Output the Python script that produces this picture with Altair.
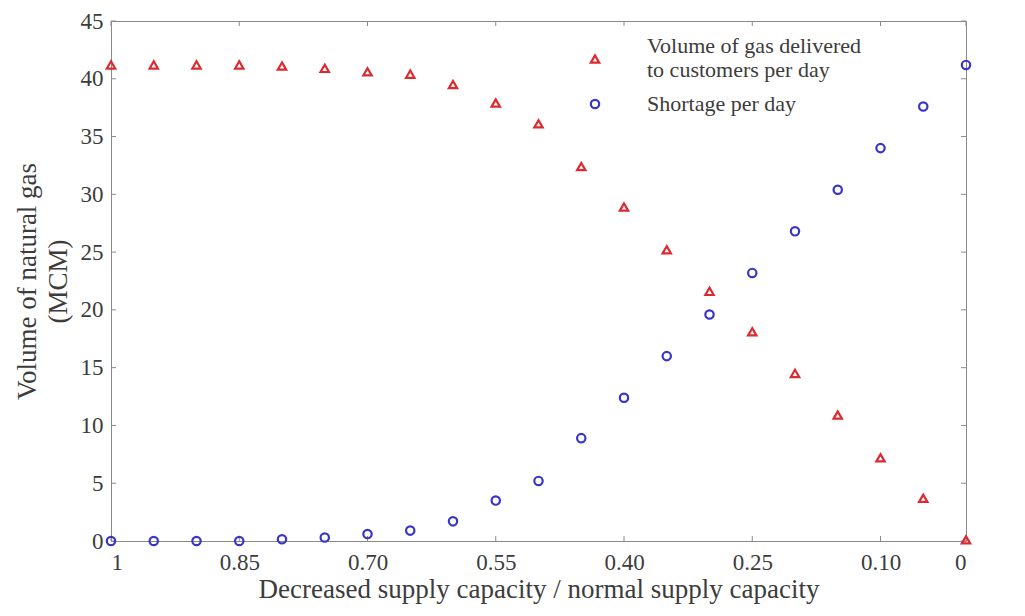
import altair as alt
import pandas as pd

ratio = [1.00, 0.95, 0.90, 0.85, 0.80, 0.75, 0.70, 0.65, 0.60, 0.55, 0.50,
         0.45, 0.40, 0.35, 0.30, 0.25, 0.20, 0.15, 0.10, 0.05, 0.00]
delivered = [41.2, 41.2, 41.2, 41.2, 41.1, 40.9, 40.6, 40.4, 39.5, 37.9, 36.1,
             32.4, 28.9, 25.2, 21.6, 18.1, 14.5, 10.9, 7.2, 3.7, 0.1]
shortage = [0.0, 0.0, 0.0, 0.0, 0.15, 0.3, 0.6, 0.9, 1.7, 3.5, 5.2,
            8.9, 12.4, 16.0, 19.6, 23.2, 26.8, 30.4, 34.0, 37.6, 41.2]
series_names = ["Volume of gas delivered to customers per day", "Shortage per day"]
series_colors = ["#dc2a30", "#3a35c6"]
x_ticks = [1, 0.85, 0.70, 0.55, 0.40, 0.25, 0.10, 0]
y_ticks = [0, 5, 10, 15, 20, 25, 30, 35, 40, 45]

rows = []
for r, d, s in zip(ratio, delivered, shortage):
    rows.append({"ratio": r, "value": d, "series": series_names[0], "series2": series_names[0]})
    rows.append({"ratio": r, "value": s, "series": series_names[1], "series2": series_names[1]})
df = pd.DataFrame(rows)
xt = pd.DataFrame({"t": x_ticks})
yt = pd.DataFrame({"t": y_ticks})

FONT = "Liberation Serif"
TXT = "#3c3c3c"
AX = "#8a8a8a"
W, H = 855, 520

xscale = alt.Scale(domain=[0, 1], reverse=True, nice=False, zero=False)
yscale = alt.Scale(domain=[0, 45], nice=False)

legend_common = dict(title=None, orient="none", labelFont=FONT, labelFontSize=22,
                     labelColor=TXT, labelOffset=41, symbolSize=70,
                     symbolStrokeWidth=2.2, labelLimit=400)

points = alt.Chart(df).mark_point(filled=False, strokeWidth=2.2, size=70, opacity=1).encode(
    x=alt.X("ratio:Q", scale=xscale,
            axis=alt.Axis(values=x_ticks, title="Decreased supply capacity / normal supply capacity",
                          labelExpr="datum.value == 1 ? '1' : datum.value == 0 ? '0' : format(datum.value, '.2f')",
                          ticks=False, labelPadding=10, titlePadding=2, titleFontSize=27, grid=False)),
    y=alt.Y("value:Q", scale=yscale,
            axis=alt.Axis(values=y_ticks, title=["Volume of natural gas", "(MCM)"],
                          ticks=False, labelPadding=8, titlePadding=8, titleLineHeight=31, grid=False)),
    color=alt.Color("series:N",
                    scale=alt.Scale(domain=series_names, range=series_colors),
                    legend=alt.Legend(
                        values=[series_names[0]], legendX=473, legendY=27,
                        labelExpr="['Volume of gas delivered', 'to customers per day']",
                        labelBaseline="line-bottom", symbolType="triangle-up",
                        **legend_common)),
    shape=alt.Shape("series2:N",
                    scale=alt.Scale(domain=[series_names[1], series_names[0]],
                                    range=["circle", "triangle-up"]),
                    legend=alt.Legend(
                        values=[series_names[1]], legendX=473, legendY=72,
                        symbolStrokeColor=series_colors[1], symbolFillColor="transparent",
                        **legend_common)),
)

tick_style = dict(color=AX, strokeWidth=1)
xb = alt.Chart(xt).mark_rule(**tick_style).encode(
    x=alt.X("t:Q", scale=xscale), y=alt.value(H), y2=alt.value(H - 5))
xtop = alt.Chart(xt).mark_rule(**tick_style).encode(
    x=alt.X("t:Q", scale=xscale), y=alt.value(0), y2=alt.value(5))
yl = alt.Chart(yt).mark_rule(**tick_style).encode(
    y=alt.Y("t:Q", scale=yscale), x=alt.value(0), x2=alt.value(5))
yr = alt.Chart(yt).mark_rule(**tick_style).encode(
    y=alt.Y("t:Q", scale=yscale), x=alt.value(W), x2=alt.value(W - 5))

chart = alt.layer(xb, xtop, yl, yr, points).properties(
    width=W, height=H,
    autosize=alt.AutoSizeParams(type="none"),
    padding={"left": 103, "top": 13, "right": 51, "bottom": 67},
).configure_view(
    stroke=AX, strokeWidth=1
).configure_axis(
    labelFont=FONT, titleFont=FONT, labelFontSize=23, titleFontSize=27,
    labelColor=TXT, titleColor=TXT, titleFontWeight="normal",
    domainColor=AX, domainWidth=1
)

chart.save("out.html", embed_options={"renderer": "svg", "actions": False})
